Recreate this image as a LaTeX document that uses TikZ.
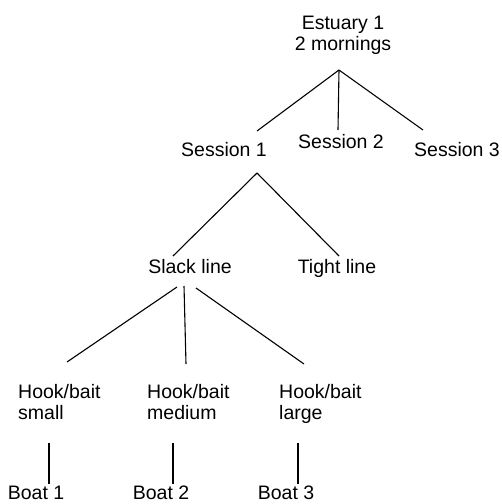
\documentclass[tikz,border=0pt]{standalone}
\usepackage{fontspec}
\setmainfont{Liberation Sans}
\usetikzlibrary{positioning}

\tikzset{
  lbl/.style = {inner sep=0pt, anchor=base, font=\fontsize{19.5}{20.5}\selectfont},
  lblleft/.style = {lbl, anchor=base west, align=left},
  branch/.style = {line width=1.1pt}
}

\begin{document}
\begin{tikzpicture}[x=1pt, y=-1pt]
  \useasboundingbox (0,0) rectangle (502,504);

  % Top of the tree (base = last line)
  \node(est)[lbl, align=center] at (343,50) {Estuary 1\\2 mornings};

  % Sessions
  \node(s1)[lbl] at (224,156) {Session 1};
  \node(s2)[lbl] at (341,148) {Session 2};
  \node(s3)[lbl] at (457,156) {Session 3};

  % Line tension
  \node(slack)[lbl] at (190,273) {Slack line};
  \node(tight)[lbl] at (337,273) {Tight line};

  % Hook/bait sizes
  \node(hs)[lblleft] at (18,419) {Hook/bait\\small};
  \node(hm)[lblleft] at (147,419) {Hook/bait\\medium};
  \node(hl)[lblleft] at (279,419) {Hook/bait\\large};

  % Boats
  \node(b1)[lbl] at (36,499) {Boat 1};
  \node(b2)[lbl] at (161,499) {Boat 2};
  \node(b3)[lbl] at (286,499) {Boat 3};

  % Branches
  \draw[branch] ([shift={(-4,20)}]est.base) -- ([shift={(33,-25)}]s1.base);
  \draw[branch] ([shift={(-4,20)}]est.base) -- ([shift={(-3,-18)}]s2.base);
  \draw[branch] ([shift={(-4,20)}]est.base) -- ([shift={(-34,-26)}]s3.base);

  \draw[branch] ([shift={(33,17)}]s1.base) -- ([shift={(-17,-17)}]slack.base);
  \draw[branch] ([shift={(33,17)}]s1.base) -- ([shift={(2,-17)}]tight.base);

  \draw[branch] ([shift={(-13,14)}]slack.base) -- ([shift={(49,-57)}]hs.base west);
  \draw[branch] ([shift={(-6,13)}]slack.base) -- ([shift={(39,-55)}]hm.base west);
  \draw[branch] ([shift={(6,15)}]slack.base) -- ([shift={(25,-55)}]hl.base west);

  \draw[branch] ([shift={(31,24)}]hs.base west) -- ([shift={(13,-15)}]b1.base);
  \draw[branch] ([shift={(26,24)}]hm.base west) -- ([shift={(12,-15)}]b2.base);
  \draw[branch] ([shift={(19,24)}]hl.base west) -- ([shift={(12,-15)}]b3.base);

\end{tikzpicture}
\end{document}
